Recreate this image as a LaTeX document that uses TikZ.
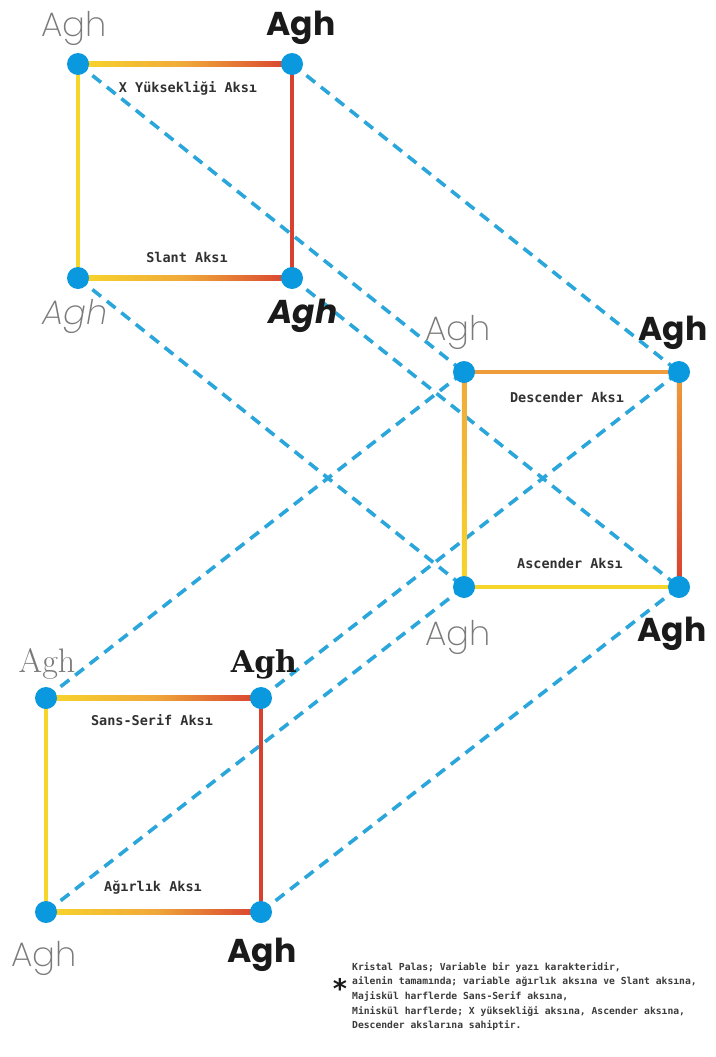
\documentclass[tikz,border=0pt]{standalone}
\usepackage{fontspec}
\usetikzlibrary{calc}
\IfFontExistsTF{Poppins ExtraLight}{\newfontfamily\aghL{Poppins ExtraLight}}{\newfontfamily\aghL{Poppins}}
\IfFontExistsTF{Poppins ExtraLight Italic}{\newfontfamily\aghLI{Poppins ExtraLight Italic}}{\newfontfamily\aghLI{Poppins Italic}}
\newfontfamily\pop{Poppins}
\newfontfamily\serifB{DejaVu Serif}
\newfontfamily\monof{DejaVu Sans Mono}
\definecolor{cY}{HTML}{F7D62B}
\definecolor{cO}{HTML}{F0A83A}
\definecolor{cOr}{HTML}{EE9C3C}
\definecolor{cR}{HTML}{D8402F}
\definecolor{cB}{HTML}{2BA6DB}
\definecolor{cD}{HTML}{0A98DF}
\definecolor{cG}{HTML}{7A7A7A}
\definecolor{cK}{HTML}{1A1A1A}
\tikzset{
  dotnode/.style={circle, fill=cD, minimum size=22pt, inner sep=0pt},
  dashline/.style={draw=cB, line width=3.6pt, dash pattern=on 11pt off 7.5pt},
  axislabel/.style={font=\monof\bfseries\fontsize{13.5}{16}\selectfont, text=cK!90, inner sep=0pt},
  thinagh/.style={font=\aghL\fontsize{34}{40}\selectfont, text=cG, inner sep=0pt},
  thinitagh/.style={font=\aghLI\fontsize{34}{40}\selectfont, text=cG, inner sep=0pt},
  boldagh/.style={font=\pop\bfseries\fontsize{33}{40}\selectfont, text=cK, inner sep=0pt},
  bolditagh/.style={font=\pop\bfseries\itshape\fontsize{33}{40}\selectfont, text=cK, inner sep=0pt},
  serifthinagh/.style={font=\rmfamily\fontsize{34}{40}\selectfont, text=cG, inner sep=0pt},
  serifboldagh/.style={font=\serifB\bfseries\fontsize{30}{40}\selectfont, text=cK, inner sep=0pt},
}
\begin{document}
\begin{tikzpicture}[x=1pt,y=-1pt]
\useasboundingbox[fill=white] (0,0) rectangle (715,1057);
% corners
\coordinate (A1) at (78,64);   \coordinate (B1) at (292,64);
\coordinate (C1) at (78,278);  \coordinate (D1) at (292,278);
\coordinate (A2) at (464,372); \coordinate (B2) at (679,372);
\coordinate (C2) at (464,587); \coordinate (D2) at (679,587);
\coordinate (A3) at (46,698);  \coordinate (B3) at (261,698);
\coordinate (C3) at (46,912);  \coordinate (D3) at (261,912);
% dashed connectors
\draw[dashline] (A1) -- (A2);
\draw[dashline] (B1) -- (B2);
\draw[dashline] (C1) -- (C2);
\draw[dashline] (D1) -- (D2);
\draw[dashline] (A3) -- (A2);
\draw[dashline] (B3) -- (B2);
\draw[dashline] (C3) -- (C2);
\draw[dashline] (D3) -- (D2);
% square 1
\shade[left color=cY, right color=cR, middle color=cO] ($(A1)+(0,-2.25)$) rectangle ($(B1)+(0,2.25)$);
\shade[left color=cY, right color=cR, middle color=cO] ($(C1)+(0,-2.25)$) rectangle ($(D1)+(0,2.25)$);
\fill[cY] ($(A1)+(-2.25,0)$) rectangle ($(C1)+(2.25,0)$);
\fill[cR] ($(B1)+(-2.25,0)$) rectangle ($(D1)+(2.25,0)$);
% square 2
\fill[cOr] ($(A2)+(0,-2.25)$) rectangle ($(B2)+(0,2.25)$);
\fill[cY] ($(C2)+(0,-2.25)$) rectangle ($(D2)+(0,2.25)$);
\shade[top color=cO, bottom color=cY] ($(A2)+(-2.25,0)$) rectangle ($(C2)+(2.25,0)$);
\shade[top color=cOr, bottom color=cR] ($(B2)+(-2.25,0)$) rectangle ($(D2)+(2.25,0)$);
% square 3
\shade[left color=cY, right color=cR, middle color=cO] ($(A3)+(0,-2.25)$) rectangle ($(B3)+(0,2.25)$);
\shade[left color=cY, right color=cR, middle color=cO] ($(C3)+(0,-2.25)$) rectangle ($(D3)+(0,2.25)$);
\fill[cY] ($(A3)+(-2.25,0)$) rectangle ($(C3)+(2.25,0)$);
\fill[cR] ($(B3)+(-2.25,0)$) rectangle ($(D3)+(2.25,0)$);
% dots
\foreach \p in {A1,B1,C1,D1,A2,B2,C2,D2,A3,B3,C3,D3}
  \node[dotnode] (dot\p) at (\p) {};
% axis labels
\node[axislabel] (lx) at (188,88) {X Yüksekliği Aksı};
\node[axislabel] (ls) at (187,257) {Slant Aksı};
\node[axislabel] (ld) at (567,397) {Descender Aksı};
\node[axislabel] (la) at (570,563) {Ascender Aksı};
\node[axislabel] (lss) at (152,720) {Sans-Serif Aksı};
\node[axislabel] (lw) at (153,888) {Ağırlık Aksı};
% Agh samples
\node[thinagh] (tA1) at (74,28) {Agh};
\node[boldagh] (tB1) at (301,28) {Agh};
\node[thinitagh] (tC1) at (75,316) {Agh};
\node[bolditagh] (tD1) at (303,316) {Agh};
\node[thinagh] (tA2) at (458,332) {Agh};
\node[boldagh] (tB2) at (673,333) {Agh};
\node[thinagh] (tC2) at (458,637) {Agh};
\node[boldagh] (tD2) at (672,634) {Agh};
\node[serifthinagh] (tA3) at (47,664) {Agh};
\node[serifboldagh] (tB3) at (264,664) {Agh};
\node[thinagh] (tC3) at (44,958) {Agh};
\node[boldagh] (tD3) at (262,955) {Agh};
% footnote
\node[font=\monof\bfseries\fontsize{27}{27}\selectfont, text=cK, inner sep=0pt, anchor=base] (star) at (340,998) {*};
\node[font=\monof\bfseries\fontsize{9.7}{14.7}\selectfont, text=cK!85, inner sep=0pt, anchor=north west, align=left] (note) at (352,962)
 {Kristal Palas; Variable bir yazı karakteridir,\\
  ailenin tamamında; variable ağırlık aksına ve Slant aksına,\\
  Majiskül harflerde Sans-Serif aksına,\\
  Miniskül harflerde; X yüksekliği aksına, Ascender aksına,\\
  Descender akslarına sahiptir.};
\end{tikzpicture}
\end{document}
